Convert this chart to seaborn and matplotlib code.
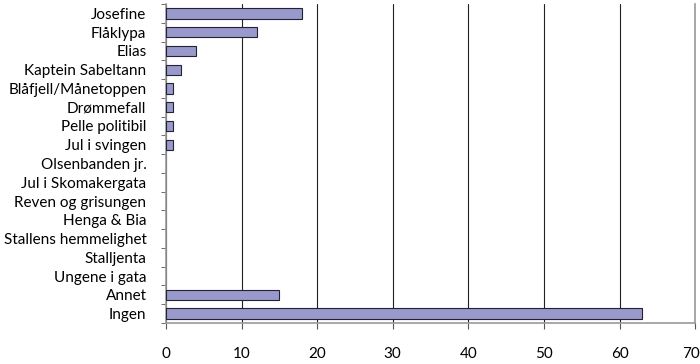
import matplotlib
matplotlib.use("Agg")
import matplotlib.pyplot as plt
import matplotlib.transforms as mtransforms
import seaborn as sns
import pandas as pd
import numpy as np
from matplotlib.ticker import FixedLocator

categories = ["Josefine", "Flåklypa", "Elias", "Kaptein Sabeltann", "Blåfjell/Månetoppen",
              "Drømmefall", "Pelle politibil", "Jul i svingen", "Olsenbanden jr.",
              "Jul i Skomakergata", "Reven og grisungen", "Henga & Bia",
              "Stallens hemmelighet", "Stalljenta", "Ungene i gata", "Annet", "Ingen"]
values = [18, 12, 4, 2, 1, 1, 1, 1, 0, 0, 0, 0, 0, 0, 0, 15, 63]
xticks = [0, 10, 20, 30, 40, 50, 60, 70]

sns.set_style("white")
plt.rcParams['font.family'] = ['Lato', 'DejaVu Sans']

df = pd.DataFrame({"cat": categories, "val": values})

fig = plt.figure(figsize=(7.0, 3.64), dpi=100)
ax = fig.add_axes([0.237, 0.1126, 0.756, 0.8764])

sns.barplot(data=df, y="cat", x="val", orient="h", color="#9999cc",
            saturation=1, width=0.55, edgecolor="#222233", linewidth=0.8, ax=ax, zorder=3)
for p in ax.patches:
    if p.get_width() == 0:
        p.set_visible(False)

ax.set_xlim(0, 70)
ax.set_ylim(len(categories) - 0.5, -0.5)
ax.set_xticks(xticks)
ax.set_xticklabels([str(t) for t in xticks])
ax.xaxis.grid(True, color="#222222", linewidth=0.8, zorder=0)
ax.yaxis.grid(False)
ax.set_xlabel("")
ax.set_ylabel("")

for s in ["left", "bottom", "right"]:
    ax.spines[s].set_visible(True)
    ax.spines[s].set_color("#999999")
    ax.spines[s].set_linewidth(1.2)
ax.spines["top"].set_visible(False)

ax.tick_params(axis="x", which="major", length=4.5, color="#555555", direction="out",
               bottom=True, pad=12.5, labelsize=11, labelcolor="black")
ax.tick_params(axis="y", which="major", length=0, pad=14, labelsize=11, labelcolor="black")
ax.yaxis.set_minor_locator(FixedLocator(np.arange(-0.5, len(categories) + 0.5, 1)))
ax.tick_params(axis="y", which="minor", length=3.6, color="#555555", direction="out", left=True)

last = ax.get_xticklabels()[-1]
last.set_transform(last.get_transform() + mtransforms.ScaledTranslation(-3/72, 0, fig.dpi_scale_trans))

fig.savefig("out.png", dpi=100)
